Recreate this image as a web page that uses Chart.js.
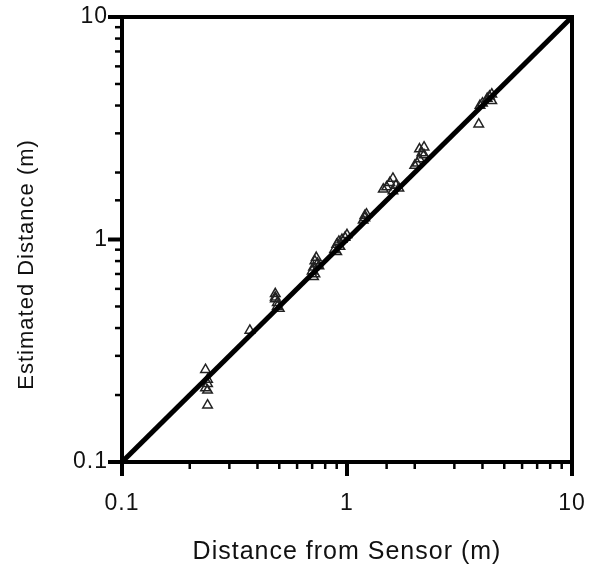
<!DOCTYPE html>
<html>
<head>
<meta charset="utf-8">
<script src="https://cdn.jsdelivr.net/npm/chart.js@4"></script>
<style>
  html, body { margin: 0; padding: 0; background: #fff; }
  #wrap { width: 593px; height: 571px; }
</style>
</head>
<body>
<div id="wrap"><canvas id="chart" width="593" height="571"></canvas></div>
<script>
// valores (m)
const sensorDist = [
  0.235, 0.24, 0.24, 0.235, 0.24, 0.24,
  0.37,
  0.48, 0.48, 0.49, 0.49, 0.50, 0.48,
  0.70, 0.71, 0.72, 0.73, 0.74, 0.72, 0.75, 0.71,
  0.88, 0.90, 0.92, 0.93, 0.95, 0.98, 1.00, 0.90,
  1.18, 1.20, 1.20, 1.22,
  1.45, 1.50, 1.55, 1.60, 1.65, 1.70, 1.60,
  2.10, 2.20, 2.15, 2.05, 2.10, 2.00, 2.20,
  3.90, 4.00, 4.30, 4.40, 4.20, 4.40, 3.85
];
const estimatedDist = [
  0.26, 0.235, 0.225, 0.215, 0.21, 0.18,
  0.39,
  0.57, 0.54, 0.52, 0.50, 0.49, 0.55,
  0.72, 0.75, 0.80, 0.83, 0.78, 0.70, 0.76, 0.68,
  0.90, 0.95, 0.98, 0.93, 1.00, 1.02, 1.05, 0.88,
  1.22, 1.28, 1.25, 1.30,
  1.68, 1.72, 1.80, 1.88, 1.75, 1.70, 1.65,
  2.55, 2.60, 2.45, 2.20, 2.30, 2.15, 2.40,
  4.00, 4.10, 4.40, 4.20, 4.30, 4.50, 3.30
];
const identityLine = [0.1, 10];
const majorTicks = [0.1, 1, 10];

const FONT = 'Liberation Sans, Arial, Helvetica, sans-serif';
const points = sensorDist.map((x, i) => ({ x: x, y: estimatedDist[i] }));

function isMajorVal(v) { return majorTicks.some(m => Math.abs(v - m) < 1e-9); }
const tickLabel = v => (isMajorVal(v) ? String(v) : '');

// letra un poco mas espaciada, como en la figura original
const spacingPlugin = {
    id: 'spacing',
    beforeDraw(chart) { chart.ctx.letterSpacing = '1px'; }
};

// marco y marcas de ejes (hacia afuera), a partir de las escalas
const framePlugin = {
    id: 'frame',
    afterDraw(chart) {
        const { ctx, chartArea: a, scales } = chart;
        ctx.save();
        ctx.strokeStyle = '#000';
        ctx.lineCap = 'butt';
        ctx.lineWidth = 4;
        ctx.strokeRect(a.left, a.top, a.right - a.left, a.bottom - a.top);

        scales.x.ticks.forEach(t => {
            const px = scales.x.getPixelForValue(t.value);
            const major = isMajorVal(t.value);
            ctx.lineWidth = major ? 4 : 2.5;
            ctx.beginPath();
            ctx.moveTo(px, a.bottom);
            ctx.lineTo(px, a.bottom + (major ? 14 : 7));
            ctx.stroke();
        });
        scales.y.ticks.forEach(t => {
            const py = scales.y.getPixelForValue(t.value);
            const major = isMajorVal(t.value);
            ctx.lineWidth = major ? 4 : 2.5;
            ctx.beginPath();
            ctx.moveTo(a.left, py);
            ctx.lineTo(a.left - (major ? 14 : 7), py);
            ctx.stroke();
        });
        ctx.restore();
    }
};

new Chart(document.getElementById('chart'), {
    type: 'scatter',
    data: {
        datasets: [
            {
                type: 'line',
                data: identityLine.map(v => ({ x: v, y: v })),
                borderColor: '#000',
                borderWidth: 5,
                pointRadius: 0,
                fill: false
            },
            {
                data: points,
                pointStyle: 'triangle',
                pointRadius: 5.5,
                borderWidth: 1.5,
                borderColor: '#222',
                backgroundColor: 'rgba(255,255,255,0)'
            }
        ]
    },
    options: {
        responsive: false,
        animation: false,
        layout: { padding: { top: 17, right: 21, left: 0, bottom: 0 } },
        plugins: { legend: { display: false }, tooltip: { enabled: false } },
        scales: {
            x: {
                type: 'logarithmic',
                min: 0.1,
                max: 10,
                grid: { display: true, drawOnChartArea: false, drawTicks: false },
                border: { display: false },
                afterFit: s => { s.height = 109; s.paddingLeft = 0; s.paddingRight = 0; },
                ticks: {
                    autoSkip: false,
                    maxRotation: 0,
                    padding: 28,
                    color: '#111',
                    font: { family: FONT, size: 23 },
                    callback: tickLabel
                },
                title: {
                    display: true,
                    text: 'Distance from Sensor (m)',
                    color: '#111',
                    font: { family: FONT, size: 25 },
                    padding: { top: 0, bottom: 4 }
                }
            },
            y: {
                type: 'logarithmic',
                min: 0.1,
                max: 10,
                grid: { display: true, drawOnChartArea: false, drawTicks: false },
                border: { display: false },
                afterFit: s => { s.width = 122; s.paddingTop = 0; s.paddingBottom = 0; },
                ticks: {
                    autoSkip: false,
                    padding: 14,
                    color: '#111',
                    font: { family: FONT, size: 23 },
                    callback: tickLabel
                },
                title: {
                    display: true,
                    // espacios al final: el titulo queda algo mas abajo, como en el original
                    text: 'Estimated Distance (m)\u00a0\u00a0\u00a0\u00a0\u00a0\u00a0\u00a0',
                    color: '#111',
                    font: { family: FONT, size: 22 },
                    padding: { top: 14, bottom: 0 }
                }
            }
        }
    },
    plugins: [spacingPlugin, framePlugin]
});
</script>
</body>
</html>
